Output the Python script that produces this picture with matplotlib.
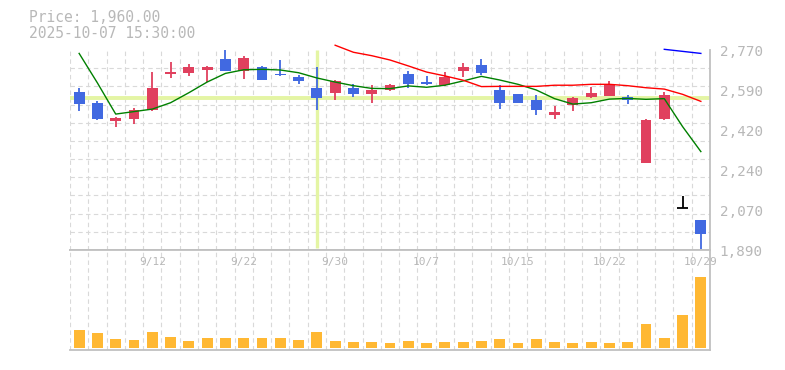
import matplotlib
matplotlib.use("Agg")
import matplotlib.pyplot as plt
import numpy as np

# daily candles, 2025-09-08 .. 2025-10-29 (trading days only)
dates = ['9/8', '9/9', '9/10', '9/11', '9/12', '9/16', '9/17', '9/18', '9/19', '9/22',
         '9/24', '9/25', '9/26', '9/29', '9/30', '10/1', '10/2', '10/3', '10/6', '10/7',
         '10/8', '10/9', '10/10', '10/14', '10/15', '10/16', '10/17', '10/20', '10/21', '10/22',
         '10/23', '10/24', '10/27', '10/28', '10/29']
opens = [2585, 2537, 2459, 2466, 2506, 2666, 2670, 2683, 2730, 2679, 2695, 2666, 2651, 2603, 2582,
         2603, 2578, 2594, 2664, 2629, 2616, 2679, 2704, 2594, 2576, 2550, 2485, 2529, 2565, 2568,
         2563, 2274, 2466, 2075, 2022]
closes = [2534, 2466, 2471, 2506, 2603, 2673, 2695, 2695, 2679, 2735, 2639, 2661, 2634, 2560, 2634,
          2578, 2594, 2616, 2622, 2622, 2651, 2695, 2670, 2538, 2538, 2507, 2499, 2559, 2581, 2616,
          2551, 2462, 2572, 2075, 1960]
highs = [2603, 2546, 2475, 2515, 2673, 2717, 2708, 2698, 2770, 2745, 2701, 2726, 2661, 2695, 2638,
         2620, 2616, 2622, 2679, 2656, 2673, 2713, 2730, 2616, 2576, 2572, 2524, 2563, 2607, 2632,
         2572, 2466, 2585, 2128, 2022]
lows = [2503, 2463, 2433, 2446, 2503, 2648, 2657, 2629, 2679, 2644, 2639, 2657, 2622, 2507, 2550,
        2565, 2538, 2591, 2604, 2617, 2613, 2653, 2661, 2512, 2538, 2485, 2468, 2503, 2560, 2568,
        2532, 2274, 2462, 2075, 1890]
volume = [180, 150, 90, 80, 160, 110, 70, 100, 100, 100, 100, 100, 80, 160, 70, 60, 60, 50,
          70, 50, 60, 60, 70, 90, 50, 90, 60, 50, 60, 50, 60, 240, 100, 330, 710]

# moving averages (short = green, mid = red, long = blue)
ma_short = [2755, 2625, 2488, 2499, 2510, 2538, 2582, 2629, 2667, 2683, 2685, 2682, 2670, 2647,
            2629, 2613, 2601, 2600, 2612, 2606, 2615, 2634, 2654, 2638, 2619, 2594, 2556, 2532,
            2538, 2554, 2557, 2553, 2556, 2433, 2323]
ma_mid_start = 14
ma_mid = [2791, 2760, 2745, 2726, 2700, 2673, 2656, 2637, 2609, 2610, 2610, 2610, 2615, 2615,
          2619, 2619, 2613, 2604, 2598, 2575, 2544]
ma_long_start = 32
ma_long = [2773, 2764, 2755]

ytick_labels = ['1,890', '2,070', '2,240', '2,420', '2,590', '2,770']
cross_idx = 13
cross_price = 2561

RED = '#e0405e'
BLUE = '#4169e1'
GRID = '#d9d9d9'
TXT = '#b8b8b8'
SPINE = '#c0c0c0'
MONO = 'DejaVu Sans Mono'

fig = plt.figure(figsize=(7.85, 3.70), dpi=100)
ax = fig.add_axes([70 / 785, 1 - 250 / 370, 640 / 785, 200 / 370])
axv = fig.add_axes([70 / 785, 1 - 350 / 370, 640 / 785, 100 / 370])

n = len(dates)
x = np.arange(n)

for a in (ax, axv):
    a.set_xlim(-0.5, n - 0.5)
    a.set_xticks(np.arange(-0.5, n, 1), minor=True)
    a.set_xticks([])
    a.grid(which='minor', axis='x', color=GRID, linestyle=(0, (4, 3)), linewidth=0.8)
    a.tick_params(which='both', length=0)
    a.set_facecolor('white')
    for s in a.spines.values():
        s.set_color(SPINE)
        s.set_linewidth(1.3)
    a.spines['left'].set_visible(False)
    a.set_axisbelow(True)

# price panel
ax.set_ylim(1890, 2770)
ax.patch.set_visible(False)
ax.spines['top'].set_visible(False)
ax.set_yticks(np.arange(1890, 2771, 80), minor=True)
ax.grid(which='minor', axis='y', color=GRID, linestyle=(0, (4, 3)), linewidth=0.8)
ax.yaxis.tick_right()
ax.set_yticks(np.linspace(1890, 2770, 6))
ax.set_yticklabels(ytick_labels, fontfamily=MONO, fontsize=10.3, color=TXT)
ax.tick_params(axis='y', pad=7)

# crosshair
ax.axhline(cross_price, color='#e4f5a4', linewidth=2.8, zorder=1)
ax.vlines(cross_idx, 1899, 2770, color='#e4f5a4', linewidth=2.4, zorder=1)

for i in x:
    o, c, h, l = opens[i], closes[i], highs[i], lows[i]
    if c > o:
        col = RED
    elif c < o:
        col = BLUE
    else:
        col = 'black'
    ax.vlines(i, l, h, color=col, linewidth=1.3, zorder=2)
    if c == o:
        ax.hlines(c, i - 0.3, i + 0.3, color=col, linewidth=1.3, zorder=3)
    else:
        ax.bar(i, abs(c - o), bottom=min(o, c), width=0.6, color=col, zorder=3)

ax.plot(x, ma_short, color='#008000', linewidth=1, zorder=4)
ax.plot(x[ma_mid_start:], ma_mid, color='#ff0000', linewidth=1, zorder=4, clip_on=False)
ax.plot(x[ma_long_start:], ma_long, color='#0000ff', linewidth=1, zorder=4, clip_on=False)

# volume panel
axv.set_ylim(-20, 980)
axv.set_yticks([])
axv.bar(x, volume, width=0.6, color='#ffb833', zorder=3)
for i in range(4, n, 5):
    axv.text(i, 0.88, dates[i], transform=axv.get_xaxis_transform(), ha='center', va='center',
             fontfamily=MONO, fontsize=8, color=TXT, zorder=5)

fig.text(29 / 785, 1 - 18 / 370, 'Price: 1,960.00', fontfamily=MONO, fontsize=10.5,
         color=TXT, va='center')
fig.text(29 / 785, 1 - 34 / 370, '2025-10-07 15:30:00', fontfamily=MONO, fontsize=10.5,
         color=TXT, va='center')

fig.savefig('out.png', dpi=100)
